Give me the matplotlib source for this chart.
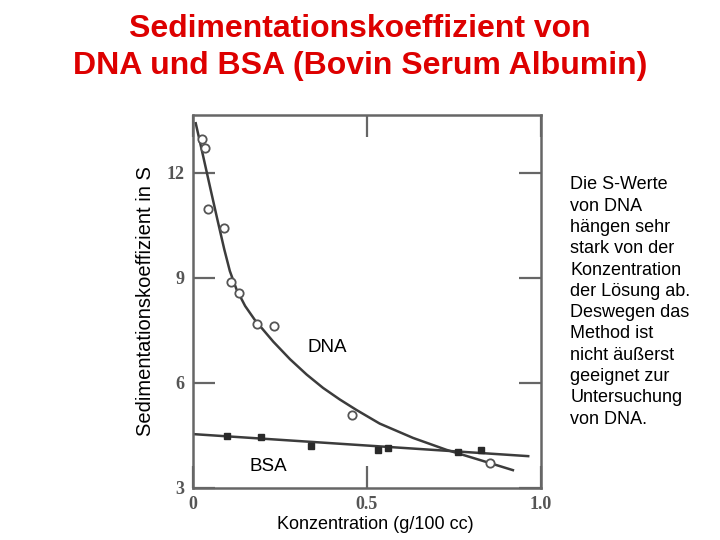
import matplotlib.pyplot as plt

# Messpunkte DNA (offene Kreise)
dna_c = [0.025, 0.034, 0.042, 0.089, 0.109, 0.133, 0.183, 0.233, 0.456, 0.853]
dna_s = [12.96, 12.71, 10.96, 10.44, 8.89, 8.58, 7.69, 7.63, 5.09, 3.71]

# Ausgleichskurve DNA
dna_fit_c = [0.008, 0.03, 0.05, 0.07, 0.09, 0.106, 0.125, 0.15, 0.178,
             0.231, 0.279, 0.327, 0.374, 0.422, 0.470, 0.537, 0.633, 0.729,
             0.825, 0.920]
dna_fit_s = [13.42, 12.45, 11.56, 10.68, 9.82, 9.2, 8.68, 8.2, 7.8,
             7.18, 6.68, 6.24, 5.86, 5.53, 5.23, 4.84, 4.43, 4.09,
             3.8, 3.51]

# Messpunkte BSA (gefuellte Quadrate)
bsa_c = [0.097, 0.195, 0.338, 0.533, 0.562, 0.762, 0.827]
bsa_s = [4.49, 4.45, 4.2, 4.09, 4.15, 4.04, 4.09]

# Ausgleichsgerade BSA
bsa_fit_c = [0.0, 0.964]
bsa_fit_s = [4.54, 3.91]

xticks = [0, 0.5, 1.0]
xtick_labels = ["0", "0.5", "1.0"]
yticks = [3, 6, 9, 12]
ytick_labels = ["3", "6", "9", "12"]

side_text = ("Die S-Werte\nvon DNA\nhängen sehr\nstark von der\nKonzentration\n"
             "der Lösung ab.\nDeswegen das\nMethod ist\nnicht äußerst\n"
             "geeignet zur\nUntersuchung\nvon DNA.")

plt.rcParams['font.family'] = ['Liberation Sans', 'DejaVu Sans']

fig = plt.figure(figsize=(7.2, 5.4), dpi=100)
ax = fig.add_axes([0.268, 0.0963, 0.483, 0.691])

line_col = '#3c3c3c'
ax.plot(dna_fit_c, dna_fit_s, color=line_col, lw=1.8, solid_joinstyle='round')
ax.plot(bsa_fit_c, bsa_fit_s, color=line_col, lw=1.8)
ax.plot(dna_c, dna_s, 'o', ms=6, mfc='white', mec='#555555', mew=1.3)
ax.plot(bsa_c, bsa_s, 's', ms=4, color='#2a2a2a')

ax.set_xlim(0, 1.0)
ax.set_ylim(3, 13.66)
ax.set_xticks(xticks)
ax.set_xticklabels(xtick_labels)
ax.set_yticks(yticks)
ax.set_yticklabels(ytick_labels)
ax.tick_params(direction='in', length=16, width=1.6, color='#666666',
               top=True, right=True, labelsize=13, labelcolor='#555555', pad=6)
for lab in ax.get_xticklabels() + ax.get_yticklabels():
    lab.set_family('Liberation Serif')
    lab.set_weight('bold')
for sp in ax.spines.values():
    sp.set_color('#666666')
    sp.set_linewidth(1.8)

ax.text(0.385, 7.0, "DNA", fontsize=13.5, ha='center', va='center')
ax.text(0.216, 3.6, "BSA", fontsize=13.5, ha='center', va='center')

fig.text(0.5, 0.912, "Sedimentationskoeffizient von\nDNA und BSA (Bovin Serum Albumin)",
         fontsize=23, fontweight='bold', color='#DD0000', ha='center', va='center',
         linespacing=1.3)
fig.text(0.2014, 0.443, "Sedimentationskoeffizient in S", rotation=90,
         fontsize=14.5, ha='center', va='center')
fig.text(0.521, 0.0278, "Konzentration (g/100 cc)", fontsize=13, ha='center', va='center')
fig.text(0.792, 0.4407, side_text, fontsize=13, ha='left', va='center', linespacing=1.33)

plt.savefig("out.png", dpi=100)
